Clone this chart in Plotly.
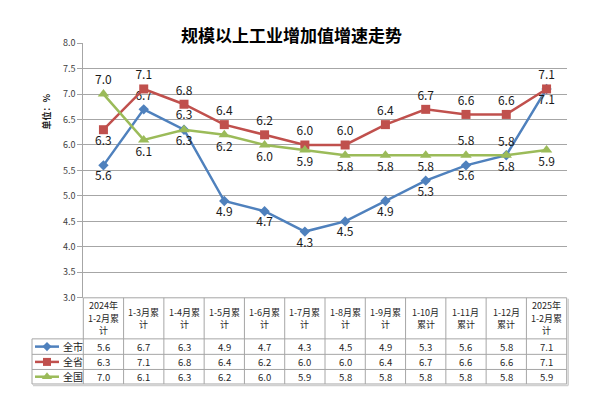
import plotly.graph_objects as go

W, H = 596, 411

categories = ["2024年<br>1-2月累<br>计", "1-3月累<br>计", "1-4月累<br>计", "1-5月累<br>计",
              "1-6月累<br>计", "1-7月累<br>计", "1-8月累<br>计", "1-9月累<br>计",
              "1-10月<br>累计", "1-11月<br>累计", "1-12月<br>累计", "2025年<br>1-2月累<br>计"]
series_names = ["全市", "全省", "全国"]
city = [5.6, 6.7, 6.3, 4.9, 4.7, 4.3, 4.5, 4.9, 5.3, 5.6, 5.8, 7.1]
province = [6.3, 7.1, 6.8, 6.4, 6.2, 6.0, 6.0, 6.4, 6.7, 6.6, 6.6, 7.1]
nation = [7.0, 6.1, 6.3, 6.2, 6.0, 5.9, 5.8, 5.8, 5.8, 5.8, 5.8, 5.9]
title = "规模以上工业增加值增速走势"
y_title = "单位：%"

colors = ["#4F81BD", "#C0504D", "#9BBB59"]
symbols = ["diamond", "square", "triangle-up"]
msizes = [8, 9, 10]

T, B = "top center", "bottom center"
positions = [
    [B, T, B, B, B, B, B, B, B, B, T, B],
    [B, T, T, T, T, T, T, T, T, T, T, T],
    [T, B, T, B, B, B, B, B, B, T, B, B],
]

FONT = "Noto Sans CJK SC, Noto Sans, sans-serif"

# pixel geometry
X0, X1 = 83.3, 566.7
Y0, Y1 = 37.3, 300.3
def px(x): return x / W
def py(y): return 1 - y / H

xs = list(range(len(categories)))
fig = go.Figure()
for name, vals, c, s, ms, pos in zip(series_names, [city, province, nation], colors, symbols, msizes, positions):
    fig.add_trace(go.Scatter(
        x=xs, y=vals, mode="lines+markers+text", name=name,
        line=dict(color=c, width=2.5),
        marker=dict(symbol=s, size=ms, color=c),
        text=[f"{v:.1f}" for v in vals], textposition=pos,
        textfont=dict(size=12, color="#1a1a1a", family=FONT),
        cliponaxis=False, showlegend=False,
    ))

# legend keys inside table (pixel-space helper axis)
row_tops = [342.7, 358.7, 374.3, 389.3]
key_x = [35, 59]
for i, (c, s, ms) in enumerate(zip(colors, symbols, msizes)):
    yc = (row_tops[i] + row_tops[i + 1]) / 2
    fig.add_trace(go.Scatter(
        x=key_x, y=[yc, yc], mode="lines", line=dict(color=c, width=2.5),
        xaxis="x2", yaxis="y2", showlegend=False, hoverinfo="skip"))
    fig.add_trace(go.Scatter(
        x=[(key_x[0] + key_x[1]) / 2], y=[yc], mode="markers",
        marker=dict(symbol=s, size=ms - 1, color=c),
        xaxis="x2", yaxis="y2", showlegend=False, hoverinfo="skip"))

shapes = []
annotations = []
GRID = "#a6a6a6"
colw = (X1 - X0) / len(categories)
for y in row_tops:
    shapes.append(dict(type="line", xref="paper", yref="paper", x0=px(32), x1=px(X1),
                       y0=py(y), y1=py(y), line=dict(color=GRID, width=1)))
for i in range(len(categories) + 1):
    x = X0 + i * colw
    shapes.append(dict(type="line", xref="paper", yref="paper", x0=px(x), x1=px(x),
                       y0=py(Y1), y1=py(row_tops[-1]), line=dict(color=GRID, width=1)))
shapes.append(dict(type="line", xref="paper", yref="paper", x0=px(32), x1=px(32),
                   y0=py(row_tops[0]), y1=py(row_tops[-1]), line=dict(color=GRID, width=1)))
shapes.append(dict(type="line", xref="paper", yref="paper", x0=px(X0), x1=px(X1),
                   y0=py(Y1), y1=py(Y1), line=dict(color=GRID, width=1)))
shapes.append(dict(type="line", xref="paper", yref="paper", x0=px(X1 + 1.5), x1=px(X1 + 1.5),
                   y0=py(Y1 + 1), y1=py(row_tops[-1] + 1.5), line=dict(color="#d0d0d0", width=1.5)))
shapes.append(dict(type="line", xref="paper", yref="paper", x0=px(33), x1=px(X1 + 1.5),
                   y0=py(row_tops[-1] + 1.5), y1=py(row_tops[-1] + 1.5), line=dict(color="#d0d0d0", width=1.5)))

# header cells: one annotation per line
LINE = 12.8
hc = (Y1 + row_tops[0]) / 2
for i, cat in enumerate(categories):
    lines = cat.split("<br>")
    n = len(lines)
    for k, ln in enumerate(lines):
        yk = hc + (k - (n - 1) / 2) * LINE
        annotations.append(dict(x=px(X0 + (i + 0.5) * colw), y=py(yk),
                                xref="paper", yref="paper", xanchor="center", yanchor="middle",
                                text=ln, showarrow=False,
                                font=dict(size=9, color="#262626", family=FONT)))
for r, vals in enumerate([city, province, nation]):
    yc = (row_tops[r] + row_tops[r + 1]) / 2
    annotations.append(dict(x=px(61), y=py(yc), xref="paper", yref="paper",
                            xanchor="left", yanchor="middle",
                            text=series_names[r], showarrow=False,
                            font=dict(size=10, color="#1a1a1a", family=FONT)))
    for i, v in enumerate(vals):
        annotations.append(dict(x=px(X0 + (i + 0.5) * colw), y=py(yc), xref="paper", yref="paper",
                                xanchor="center", yanchor="middle",
                                text=f"{v:.1f}", showarrow=False,
                                font=dict(size=9.5, color="#262626", family=FONT)))

annotations.append(dict(x=px(291), y=py(28), xref="paper", yref="paper",
                        xanchor="center", yanchor="middle", text=f"<b>{title}</b>",
                        showarrow=False, font=dict(size=17, color="#000000", family=FONT)))
annotations.append(dict(x=px(47), y=py(108), xref="paper", yref="paper",
                        xanchor="center", yanchor="middle", text=f"<b>{y_title}</b>",
                        textangle=-90, showarrow=False, font=dict(size=9, color="#1a1a1a", family=FONT)))

fig.update_layout(
    width=W, height=H, margin=dict(l=0, r=0, t=0, b=0),
    paper_bgcolor="white", plot_bgcolor="rgba(0,0,0,0)",
    xaxis=dict(domain=[px(X0), px(X1)], range=[-0.5, len(categories) - 0.5],
               showticklabels=False, showgrid=False, zeroline=False, ticks="", fixedrange=True),
    yaxis=dict(domain=[py(Y1), py(Y0)], range=[3, 8], dtick=0.5, tickformat=".1f",
               showgrid=True, gridcolor=GRID, gridwidth=1, zeroline=False,
               showline=True, linecolor=GRID, linewidth=1, ticks="outside", ticklen=5,
               tickcolor=GRID, tickfont=dict(size=9, color="#404040", family=FONT)),
    xaxis2=dict(domain=[0, 1], range=[0, W], visible=False, anchor="y2", fixedrange=True),
    yaxis2=dict(domain=[0, 1], range=[H, 0], visible=False, anchor="x2", fixedrange=True),
    shapes=shapes, annotations=annotations, showlegend=False,
    font=dict(family=FONT),
)

fig.write_html("out.html", config={"displayModeBar": False},
               post_script="document.body.style.margin='0';")
